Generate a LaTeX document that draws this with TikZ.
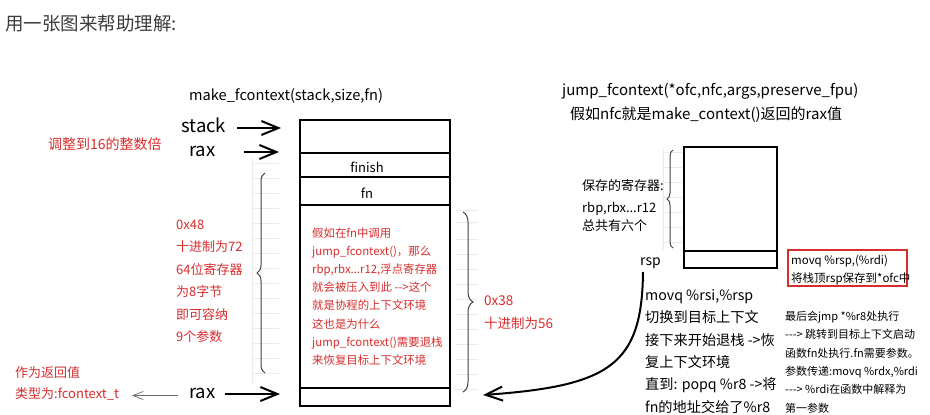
\documentclass[tikz,border=0pt]{standalone}
\usepackage{fontspec}
\setmainfont{Noto Sans CJK SC}[Ligatures=TeXOff]
\usetikzlibrary{arrows.meta,decorations.pathreplacing}
\definecolor{myred}{RGB}{215,45,45}
\definecolor{ttl}{RGB}{60,60,60}
\definecolor{faint}{RGB}{235,235,235}
\newcommand{\mydots}{...}
\begin{document}
\begin{tikzpicture}[x=1pt,y=-1pt,
  txt/.style={anchor=west,inner sep=0pt,text height=0.8em,text depth=0.2em,yshift=-2.5pt},
  fs/.style={font=\fontsize{#1}{#1}\selectfont},
  redtxt/.style={txt,text=myred},
  cell/.style={draw,line width=2pt,minimum width=150pt,inner sep=0pt},
  rcell/.style={draw,line width=2pt,minimum width=93pt,inner sep=0pt},
  bigarrow/.style={line width=2pt,-{Straight Barb[length=17pt,width=14pt,line width=2pt]}},
  thinarrow/.style={line width=0.7pt,draw=black!60,-{Straight Barb[length=10pt,width=8pt,line width=0.7pt]}},
  curvearrow/.style={line width=2pt,-{Straight Barb[length=17pt,width=14pt,line width=2pt]}},
  bracestyle/.style={draw=black!75,line width=1pt,decorate,decoration={brace,amplitude=#1}},
  gridline/.style={draw=faint,line width=0.8pt}
]
\useasboundingbox (0,0) rectangle (930,415);

% faint grid remnants
\foreach \yy in {163,178,193,208,223,238,253,268,283,298,313,328,343,358,373}
  \draw[gridline] (252,\yy) -- (279,\yy);
\draw[gridline] (252,158) -- (252,385);
\foreach \yy in {210,222,239,254,269,284,299,314,329,344,359,374,389}
  \draw[gridline] (455,\yy) -- (478,\yy);
\foreach \yy in {152,167,182,197,212,227,242}
  \draw[gridline] (663,\yy) -- (683,\yy);
\draw[gridline] (663,148) -- (663,250);

% title
\node[txt,fs=18.5,text=ttl] (title) at (5,25) {用一张图来帮助理解:};

% left stack
\node[txt,fs=14.6] (mk) at (189,95) {make\_fcontext(stack,size,fn)};
\node[cell,minimum height=33pt] (c1) at (375,136.5) {};
\node[cell,minimum height=24pt] (c2) at (375,165) {};
\node[cell,minimum height=28pt] (c3) at (375,191) {};
\node[cell,minimum height=183pt] (c4) at (375,296.5) {};
\node[cell,minimum height=18pt] (c5) at (375,397) {};
\node[txt,fs=13,anchor=center] (finishlbl) at (367,167) {finish};
\node[txt,fs=13,anchor=center] (fnlbl) at (367,193) {fn};

\node[txt,fs=18.5] (stack) at (181,127) {stack};
\node[txt,fs=18.5] (rax1) at (189,151) {rax};
\coordinate (stacktip) at (281,128);
\coordinate (rax1tip) at (279,152);
\draw[bigarrow,shorten <=11pt] (stack.east |- stacktip) -- (stacktip);
\draw[bigarrow,shorten <=28pt] (rax1.east |- rax1tip) -- (rax1tip);

\node[redtxt,fs=14] (align16) at (48,144) {调整到16的整数倍};

% left brace + red text
\coordinate (lbB) at (265,373);
\coordinate (lbT) at (265,173);
\draw[bracestyle=8pt] (lbB) -- (lbT);
\foreach \t [count=\i] in {0x48,十进制为72,64位寄存器,为8字节,即可容纳,9个参数}
  \node[redtxt,fs=13] (L\i) at (176,{224+22.4*(\i-1)}) {\t};

% text inside box
\foreach \t [count=\i] in {假如在fn中调用,{jump\_fcontext()，那么},{rbp,rbx\mydots r12,浮点寄存器},就会被压入到此 -->这个,就是协程的上下文环境,这也是为什么,jump\_fcontext()需要退栈,来恢复目标上下文环境}
  \node[redtxt,fs=11.4] (B\i) at (312,{232+18.1*(\i-1)}) {\t};

% right brace of stack
\coordinate (rbT) at (463,212);
\coordinate (rbB) at (463,392);
\draw[bracestyle=10pt] (rbT) -- (rbB);
\node[redtxt,fs=13.5] (hx38) at (484,300) {0x38};
\node[redtxt,fs=13.5] (dec56) at (484,323) {十进制为56};

% bottom rax
\node[txt,fs=18.5] (rax2) at (189,393) {rax};
\coordinate (rax2tip) at (280,394);
\draw[bigarrow,shorten <=9pt] (rax2.east |- rax2tip) -- (rax2tip);
\node[redtxt,fs=13] (ret1) at (15,372) {作为返回值};
\node[redtxt,fs=13] (ret2) at (15,393) {类型为:fcontext\_t};
\draw[thinarrow,shorten <=11pt,shorten >=13pt] (rax2.west) -- (ret2.east);

% right part
\node[txt,fs=15] (jt) at (562,90) {jump\_fcontext(*ofc,nfc,args,preserve\_fpu)};
\node[txt,fs=15] (jt2) at (570,114) {假如nfc就是make\_context()返回的rax值};
\node[rcell,minimum height=104pt] (r1) at (730.5,199) {};
\node[rcell,minimum height=17pt] (r2) at (730.5,259.5) {};
\coordinate (rbrB) at (673,248);
\coordinate (rbrT) at (673,150);
\draw[bracestyle=6pt] (rbrB) -- (rbrT);
\node[txt,fs=13] (sv1) at (582,185) {保存的寄存器:};
\node[txt,fs=13] (sv2) at (582,207) {rbp,rbx\mydots r12};
\node[txt,fs=13] (sv3) at (582,225) {总共有六个};
\node[txt,fs=14] (rsp) at (640,260) {rsp};

\node[draw=myred,line width=1.5pt,minimum width=119pt,minimum height=36pt,inner sep=0pt] (redbox) at (847.5,268) {};
\node[txt,fs=11.5] (rb1) at (791,259) {movq \%rsp,(\%rdi)};
\node[txt,fs=11.5] (rb2) at (791,277) {将栈顶rsp保存到*ofc中};

% curve from rsp back to stack
\coordinate (cstart) at (643,272);
\coordinate (cend) at (483,395);
\draw[curvearrow] (cstart) .. controls (642,365) and (610,386) .. (cend);

\foreach \t [count=\i] in {{movq \%rsi,\%rsp},切换到目标上下文,接下来开始退栈 ->恢,复上下文环境,直到: popq \%r8 ->将,fn的地址交给了\%r8}
  \node[txt,fs=14.2] (M\i) at (645,{295+22.3*(\i-1)}) {\t};

\foreach \t [count=\i] in {最后会jmp *\%r8处执行,---> 跳转到目标上下文启动,函数fn处执行.fn需要参数。,{参数传递:movq \%rdx,\%rdi},---> \%rdi在函数中解释为,第一参数}
  \node[txt,fs=11] (S\i) at (785,{315+18.35*(\i-1)}) {\t};
\end{tikzpicture}
\end{document}
